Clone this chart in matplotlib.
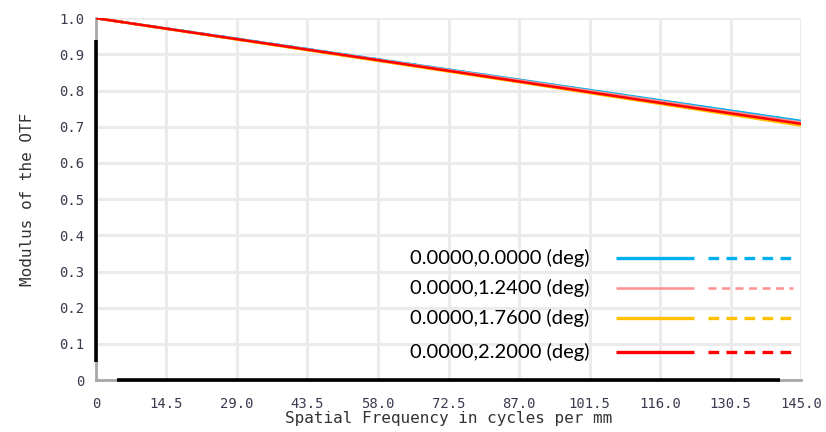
import matplotlib
matplotlib.use("Agg")
import matplotlib.pyplot as plt
import numpy as np

freq = [0, 29.0, 58.0, 87.0, 116.0, 145.0]
series_labels = ["0.0000,0.0000 (deg)", "0.0000,1.2400 (deg)",
                 "0.0000,1.7600 (deg)", "0.0000,2.2000 (deg)"]
tan_vals = [
    [1.0, 0.943, 0.886, 0.830, 0.773, 0.716],
    [1.0, 0.942, 0.885, 0.828, 0.770, 0.712],
    [1.0, 0.941, 0.882, 0.823, 0.763, 0.703],
    [1.0, 0.942, 0.884, 0.825, 0.766, 0.708],
]
sag_vals = [
    [1.0, 0.943, 0.886, 0.829, 0.772, 0.715],
    [1.0, 0.942, 0.884, 0.827, 0.769, 0.711],
    [1.0, 0.941, 0.883, 0.824, 0.765, 0.706],
    [1.0, 0.942, 0.884, 0.826, 0.767, 0.709],
]
colors = ["#00b0f0", "#ff9090", "#ffc000", "#ff0000"]
xticks = [0, 14.5, 29.0, 43.5, 58.0, 72.5, 87.0, 101.5, 116.0, 130.5, 145.0]
xticklabels = ["0", "14.5", "29.0", "43.5", "58.0", "72.5", "87.0", "101.5",
               "116.0", "130.5", "145.0"]
yticks = [0, 0.1, 0.2, 0.3, 0.4, 0.5, 0.6, 0.7, 0.8, 0.9, 1.0]
yticklabels = ["0", "0.1", "0.2", "0.3", "0.4", "0.5", "0.6", "0.7", "0.8", "0.9", "1.0"]

fig = plt.figure(figsize=(8.26, 4.32), dpi=100)
ax = fig.add_axes([0.116, 0.120, 0.854, 0.838])

for i in range(4):
    ax.plot(freq, sag_vals[i], color=colors[i], lw=1.8, ls=(0, (4, 3)), zorder=3)
    ax.plot(freq, tan_vals[i], color=colors[i], lw=1.8, zorder=4)

ax.set_xlim(0, 145)
ax.set_ylim(0, 1.0)
ax.set_xticks(xticks)
ax.set_xticklabels(xticklabels)
ax.set_yticks(yticks)
ax.set_yticklabels(yticklabels)
tick_color = "#3a3a50"
for lab in ax.get_xticklabels() + ax.get_yticklabels():
    lab.set_family("DejaVu Sans Mono")
    lab.set_fontsize(10)
    lab.set_color(tick_color)
ax.tick_params(axis="x", length=0, pad=12)
ax.tick_params(axis="y", length=0, pad=8)
ax.grid(True, color="#ebebeb", lw=2.2)
ax.set_axisbelow(True)

for s in ["top", "right"]:
    ax.spines[s].set_visible(False)
for s in ["left", "bottom"]:
    ax.spines[s].set_color("#a8a8a8")
    ax.spines[s].set_linewidth(2.0)
# dark inner part of the axes
ax.plot([0, 0], [0.05, 0.94], transform=ax.transAxes, color="black", lw=2.6,
        clip_on=False, zorder=5, solid_capstyle="butt")
ax.plot([0.03, 0.97], [0, 0], transform=ax.transAxes, color="black", lw=2.6,
        clip_on=False, zorder=5, solid_capstyle="butt")

ax.set_xlabel("Spatial Frequency in cycles per mm", family="DejaVu Sans Mono",
              fontsize=11.5, color="#333333", labelpad=0)
ax.set_ylabel("Modulus of the OTF", family="DejaVu Sans Mono",
              fontsize=11.5, color="#333333", labelpad=18)

# legend
rows_y = [0.337, 0.254, 0.171, 0.077]
lws = [2.4, 1.8, 2.4, 2.4]
for i in range(4):
    y = rows_y[i]
    ax.text(0.700, y, series_labels[i], transform=ax.transAxes, ha="right",
            va="center", fontsize=14.5, family="Lato", color="black", zorder=6)
    ax.plot([0.738, 0.848], [y, y], transform=ax.transAxes, color=colors[i],
            lw=lws[i], solid_capstyle="butt", zorder=6)
    ax.plot([0.868, 0.989], [y, y], transform=ax.transAxes, color=colors[i],
            lw=lws[i], ls=(0, (3.2, 2.2)), zorder=6, clip_on=False)

fig.savefig("out.png", dpi=100)
